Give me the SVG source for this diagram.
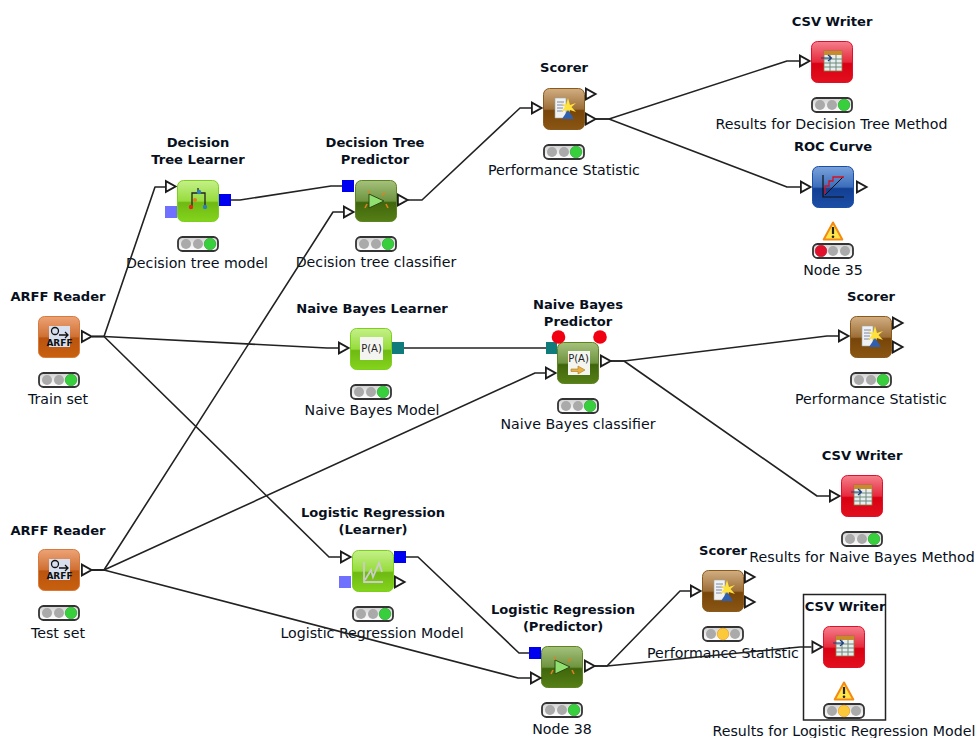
<svg xmlns="http://www.w3.org/2000/svg" width="977" height="738" viewBox="0 0 977 738">
<style>
text{font-family:"DejaVu Sans","Liberation Sans",sans-serif;font-size:14.2px;fill:#081020;text-anchor:middle}
.t{font-weight:bold;font-size:13.1px}
.c{fill:none;stroke:#222;stroke-width:1.6;stroke-linejoin:round}
.p{fill:#fff;stroke:#1c1c1c;stroke-width:1.8;stroke-linejoin:miter}
.i{font-size:10px;fill:#222;font-weight:normal}
.a{font-size:9px;fill:#111;font-weight:bold}
</style>
<defs>
<linearGradient id="gO" x1="0" y1="0" x2="0" y2="1"><stop offset="0" stop-color="#eda377"/><stop offset=".5" stop-color="#cf6f32"/><stop offset=".52" stop-color="#b9540f"/><stop offset="1" stop-color="#c9600f"/></linearGradient>
<linearGradient id="gL" x1="0" y1="0" x2="0" y2="1"><stop offset="0" stop-color="#c5f08a"/><stop offset=".5" stop-color="#96dc3c"/><stop offset=".54" stop-color="#6fb914"/><stop offset="1" stop-color="#84d41c"/></linearGradient>
<linearGradient id="gD" x1="0" y1="0" x2="0" y2="1"><stop offset="0" stop-color="#a5c27c"/><stop offset=".5" stop-color="#6f9440"/><stop offset=".54" stop-color="#40660b"/><stop offset="1" stop-color="#557f17"/></linearGradient>
<linearGradient id="gB" x1="0" y1="0" x2="0" y2="1"><stop offset="0" stop-color="#d2ae82"/><stop offset=".5" stop-color="#9d6f38"/><stop offset=".54" stop-color="#774509"/><stop offset="1" stop-color="#8a5614"/></linearGradient>
<linearGradient id="gR" x1="0" y1="0" x2="0" y2="1"><stop offset="0" stop-color="#f57f8c"/><stop offset=".5" stop-color="#e62a3c"/><stop offset=".54" stop-color="#d80012"/><stop offset="1" stop-color="#e2101f"/></linearGradient>
<linearGradient id="gU" x1="0" y1="0" x2="0" y2="1"><stop offset="0" stop-color="#7ba3dc"/><stop offset=".5" stop-color="#3b6dbb"/><stop offset=".54" stop-color="#123f92"/><stop offset="1" stop-color="#1c4ea6"/></linearGradient>
<linearGradient id="gT" x1="0" y1="0" x2="0" y2="1"><stop offset="0" stop-color="#d0d0d0"/><stop offset=".6" stop-color="#f0f0f0"/><stop offset="1" stop-color="#fff"/></linearGradient>
<g id="tl"><rect x="1" y="1" width="40" height="14" rx="4.500" fill="url(#gT)" stroke="#333" stroke-width="1.800"/></g>
<circle id="off" r="5" fill="#aaa"/>
<g id="lg"><use href="#tl"/><use href="#off" x="9" y="8"/><use href="#off" x="21" y="8"/><circle cx="33" cy="8" r="5.800" fill="#37d03c" stroke="#1d9a24" stroke-width=".6"/></g>
<g id="ly"><use href="#tl"/><use href="#off" x="9" y="8"/><use href="#off" x="33" y="8"/><circle cx="21" cy="8" r="5.800" fill="#fcc93a" stroke="#e8960f" stroke-width=".6"/></g>
<g id="lr"><use href="#tl"/><use href="#off" x="21" y="8"/><use href="#off" x="33" y="8"/><circle cx="9" cy="8" r="5.800" fill="#e3102c" stroke="#a50a1e" stroke-width=".6"/></g>
<path id="port" class="p" d="M0.900,-5.400 L10.600,0 L0.900,5.400 Z"/>
<g id="warn"><path d="M10,1.500 L19.300,18.500 L0.700,18.500 Z" fill="#ffe64a" stroke="#f58a12" stroke-width="2" stroke-linejoin="round"/><path d="M10,6 V13" stroke="#222" stroke-width="2.200"/><circle cx="10" cy="15.700" r="1.300" fill="#222"/></g>
<g id="iscore"><path d="M12,10 H23 V30 H12 Z" fill="#f1f1f1" stroke="#9aa" stroke-width=".6"/><path d="M14,14 H21 M14,17 H21 M14,20 H20 M14,23 H20" stroke="#7a8aa8" stroke-width="1"/><path d="M25,10 L27,17 L33,15 L28.500,19 L33,24 L27,22 L25,28 L23,22 L18,24 L22,19 L18,15 L23,17 Z" fill="#ffe23c"/><path d="M19,31 L25,22 L31,31 Z" fill="#2f5fb0"/></g>
<g id="icsv"><rect x="13" y="10" width="18" height="20" fill="#e8eef0" stroke="#8c7a3c" stroke-width=".8"/><rect x="13" y="10" width="18" height="4" fill="#c98a2c"/><path d="M13,18 H31 M13,22 H31 M13,26 H31 M19,14 V30 M25,14 V30" stroke="#6f8a7a" stroke-width="1"/><path d="M10,17 H20 M17,14 L20.500,17 L17,20" fill="none" stroke="#1d3f80" stroke-width="1.200"/></g>
<g id="ipred"><path d="M14,14 L29,21 L14,28 Z" fill="#8fe070" stroke="#2f4a10" stroke-width="1"/><path d="M12,24 L10,28 M31,24 L33,28 M15,13 L13,11 M27,15 L30,13" stroke="#e08020" stroke-width="1.600"/></g>
<g id="iarff"><rect x="11" y="10" width="21" height="21" fill="#d8e0f0"/><circle cx="17" cy="15" r="3.500" fill="none" stroke="#111" stroke-width="1.300"/><path d="M21,19 H30 M27,16 L30,19 L27,22" fill="none" stroke="#111" stroke-width="1.300"/><text class="a" x="21.500" y="30">ARFF</text></g>
</defs>

<g id="node-arff1"><rect x="38.500" y="316.500" width="41" height="41" rx="6" fill="url(#gO)" stroke="#d87a3c"/><use href="#iarff" x="38" y="316"/><use href="#port" x="81" y="336.500"/><use href="#lg" x="38" y="372"/><text class="t" x="58" y="301">ARFF Reader</text><text x="58" y="404">Train set</text></g>

<g id="node-arff2"><rect x="38.500" y="549.500" width="41" height="41" rx="6" fill="url(#gO)" stroke="#d87a3c"/><use href="#iarff" x="38" y="549"/><use href="#port" x="81" y="570"/><use href="#lg" x="38" y="605"/><text class="t" x="58" y="535">ARFF Reader</text><text x="58" y="638">Test set</text></g>

<g id="node-dtl"><rect x="177.500" y="180.500" width="41" height="41" rx="6" fill="url(#gL)" stroke="#7bd01c"/><path d="M192,200 V193 H205 V200 M198,193 V188 M192,200 V206 M205,200 V206" fill="none" stroke="#222" stroke-width="1.300"/><circle cx="199" cy="192" r="2.200" fill="#2f7fc0"/><circle cx="191" cy="207" r="2.200" fill="#e02a20"/><circle cx="205" cy="207" r="2.200" fill="#2f7fc0"/><circle cx="195" cy="200" r="2" fill="#e08020"/><rect x="219" y="194" width="12" height="12" fill="#0000f0"/><rect x="165" y="206" width="12" height="12" fill="#7070ff"/><use href="#port" x="165" y="186.500"/><use href="#lg" x="177" y="236"/><text class="t" x="198" y="147">Decision</text><text class="t" x="198" y="164">Tree Learner</text><text x="197" y="268">Decision tree model</text></g>

<g id="node-dtp"><rect x="355.500" y="180.500" width="41" height="41" rx="6" fill="url(#gD)" stroke="#5d8420"/><use href="#ipred" x="355" y="180"/><rect x="342" y="180" width="12" height="12" fill="#0000f0"/><use href="#port" x="343" y="212"/><use href="#port" x="397" y="200"/><use href="#lg" x="355" y="236"/><text class="t" x="375" y="147">Decision Tree</text><text class="t" x="375" y="164">Predictor</text><text x="376" y="267">Decision tree classifier</text></g>

<g id="node-nbl"><rect x="350.500" y="328.500" width="41" height="41" rx="6" fill="url(#gL)" stroke="#7bd01c"/><rect x="360" y="337" width="23" height="23" fill="#f4f4f0"/><text class="i" x="371.500" y="352">P(A)</text><rect x="392" y="342" width="12" height="12" fill="#0f7b7b"/><use href="#port" x="338" y="348"/><use href="#lg" x="350" y="384"/><text class="t" x="372" y="313">Naive Bayes Learner</text><text x="372" y="415">Naive Bayes Model</text></g>

<g id="node-nbp"><rect x="557.500" y="342.500" width="41" height="41" rx="6" fill="url(#gD)" stroke="#5d8420"/><rect x="568" y="351" width="22" height="24" fill="#f4f4f0"/><text class="i" x="578.500" y="362">P(A)</text><path d="M571,369 H578 V366 L585,370 L578,374 V371.500 H571 Z" fill="#e8b040" stroke="#a87a20" stroke-width=".6"/><rect x="546" y="342" width="11" height="12" fill="#0f7b7b"/><circle cx="558.500" cy="337" r="6.800" fill="#f00010"/><circle cx="600" cy="337" r="6.800" fill="#f00010"/><use href="#port" x="545" y="373"/><use href="#port" x="600" y="361"/><use href="#lg" x="557" y="398"/><text class="t" x="578" y="309">Naive Bayes</text><text class="t" x="578" y="326">Predictor</text><text x="578" y="429">Naive Bayes classifier</text></g>

<g id="node-lrl"><rect x="352.500" y="550.500" width="41" height="41" rx="6" fill="url(#gL)" stroke="#7bd01c"/><path d="M364,562 V582 H383 M365,580 L371,570 L373,577 L379,563 L382,572" fill="none" stroke="#ccc" stroke-width="1.800"/><rect x="394" y="551" width="12" height="12" fill="#0000f0"/><rect x="339" y="576" width="12" height="12" fill="#7070ff"/><use href="#port" x="340" y="557"/><use href="#port" x="394" y="582"/><use href="#lg" x="352" y="606"/><text class="t" x="373" y="517">Logistic Regression</text><text class="t" x="373" y="534">(Learner)</text><text x="372" y="638">Logistic Regression Model</text></g>

<g id="node-lrp"><rect x="541.500" y="646.500" width="41" height="41" rx="6" fill="url(#gD)" stroke="#5d8420"/><use href="#ipred" x="541" y="646"/><rect x="529" y="647" width="12" height="12" fill="#0000f0"/><use href="#port" x="530" y="678"/><use href="#port" x="584" y="666"/><use href="#lg" x="541" y="702"/><text class="t" x="563" y="614">Logistic Regression</text><text class="t" x="563" y="631">(Predictor)</text><text x="562" y="734">Node 38</text></g>

<g id="node-scorer1"><rect x="543.500" y="88.500" width="41" height="41" rx="6" fill="url(#gB)" stroke="#8a5a1c"/><use href="#iscore" x="543" y="88"/><use href="#port" x="531" y="108"/><use href="#port" x="585" y="94"/><use href="#port" x="585" y="119"/><use href="#lg" x="543" y="144"/><text class="t" x="564" y="72">Scorer</text><text x="564" y="175">Performance Statistic</text></g>

<g id="node-scorer2"><rect x="850.500" y="316.500" width="41" height="41" rx="6" fill="url(#gB)" stroke="#8a5a1c"/><use href="#iscore" x="850" y="316"/><use href="#port" x="838" y="336"/><use href="#port" x="892" y="323"/><use href="#port" x="892" y="347"/><use href="#lg" x="850" y="372"/><text class="t" x="871" y="301">Scorer</text><text x="871" y="404">Performance Statistic</text></g>

<g id="node-scorer3"><rect x="702.500" y="570.500" width="41" height="41" rx="6" fill="url(#gB)" stroke="#8a5a1c"/><use href="#iscore" x="702" y="570"/><use href="#port" x="690" y="591"/><use href="#port" x="744" y="577"/><use href="#port" x="744" y="602"/><use href="#ly" x="702" y="626"/><text class="t" x="723" y="555">Scorer</text><text x="723" y="658">Performance Statistic</text></g>

<g id="node-csv1"><rect x="811.500" y="41.500" width="41" height="41" rx="6" fill="url(#gR)" stroke="#e0102a"/><use href="#icsv" x="811" y="41"/><use href="#port" x="799" y="61"/><use href="#lg" x="811" y="97"/><text class="t" x="832" y="26">CSV Writer</text><text x="831.500" y="129">Results for Decision Tree Method</text></g>

<g id="node-roc"><rect x="812.500" y="166.500" width="41" height="41" rx="6" fill="url(#gU)" stroke="#1c4ea6"/><path d="M823,175 V197 H844" fill="none" stroke="#111" stroke-width="1.200"/><path d="M825,195 L843,177" stroke="#111" stroke-width="1"/><path d="M825,194 V186 H829 V181 H833 V177 H844" fill="none" stroke="#d81020" stroke-width="1.300"/><use href="#port" x="800" y="187"/><use href="#port" x="856" y="187"/><use href="#warn" x="823" y="221"/><use href="#lr" x="812" y="243"/><text class="t" x="833" y="151">ROC Curve</text><text x="833" y="275">Node 35</text></g>

<g id="node-csv2"><rect x="841.500" y="475.500" width="41" height="41" rx="6" fill="url(#gR)" stroke="#e0102a"/><use href="#icsv" x="841" y="475"/><use href="#port" x="829" y="496"/><use href="#lg" x="841" y="531"/><text class="t" x="862" y="460">CSV Writer</text><text x="862" y="562">Results for Naive Bayes Method</text></g>

<g id="node-csv3"><rect x="803.500" y="594.500" width="82" height="125.500" fill="none" stroke="#222" stroke-width="1.500"/><rect x="823.500" y="626.500" width="41" height="41" rx="6" fill="url(#gR)" stroke="#e0102a"/><use href="#icsv" x="823" y="626"/><use href="#port" x="811.500" y="647"/><use href="#warn" x="834" y="681"/><use href="#ly" x="823" y="703"/><text class="t" x="845" y="611">CSV Writer</text><text x="844" y="736">Results for Logistic Regression Model</text></g>

<g id="connectors">
<path class="c" d="M92,336.500 H104 L155,187 H165"/>
<path class="c" d="M92,336.500 H104 L327,348 H338"/>
<path class="c" d="M92,336.500 H104 L329,557 H340"/>
<path class="c" d="M92,570 H104 L333,212 H343"/>
<path class="c" d="M92,570 H104 L535,373 H545"/>
<path class="c" d="M92,570 H104 L518,678 H530"/>
<path class="c" d="M231,200 H240 L331,186 H342"/>
<path class="c" d="M404,348 H546"/>
<path class="c" d="M406,557 H418 L519,653 H529"/>
<path class="c" d="M408,200 H422 L520,108 H531"/>
<path class="c" d="M596,119 H609 L787,61 H799"/>
<path class="c" d="M596,119 H609 L787,187 H800"/>
<path class="c" d="M611,361 H624 L827,336 H838"/>
<path class="c" d="M611,361 H624 L817,496 H829"/>
<path class="c" d="M595,666 H607 L680,591 H690"/>
<path class="c" d="M595,666 H607 L800,647 H811.500"/>
</g>
</svg>
